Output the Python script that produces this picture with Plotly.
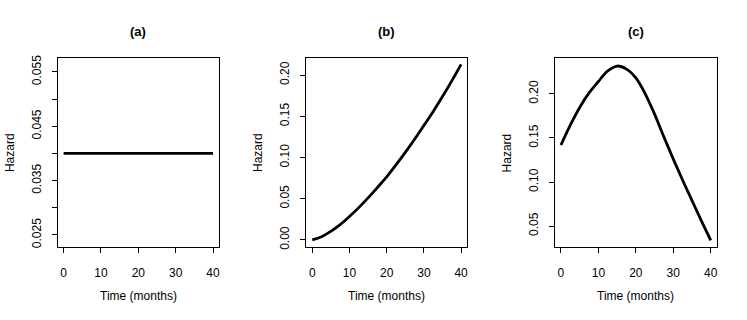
import plotly.graph_objects as go
from plotly.subplots import make_subplots

# time grid (months) and hazard values
months = [0, 2.5, 5, 7.5, 10, 12.5, 15, 17.5, 20, 22.5, 25, 27.5, 30, 32.5, 35, 37.5, 40]
hazard_a = [0.04] * len(months)
hazard_b = [0.0, 0.0038, 0.0104, 0.0186, 0.0285, 0.0392, 0.0510, 0.0636, 0.0765,
            0.0910, 0.1062, 0.1222, 0.1390, 0.1560, 0.1740, 0.1930, 0.2130]
hazard_c = [0.142, 0.1645, 0.1845, 0.201, 0.214, 0.226, 0.2315, 0.228, 0.218,
            0.200, 0.177, 0.151, 0.126, 0.102, 0.079, 0.056, 0.034]

panel_titles = ['(a)', '(b)', '(c)']
x_ticks = [0, 10, 20, 30, 40]
a_ticks = [0.025, 0.030, 0.035, 0.040, 0.045, 0.050, 0.055]
a_labels = ['0.025', '', '0.035', '', '0.045', '', '0.055']
b_ticks = [0.00, 0.05, 0.10, 0.15, 0.20]
b_labels = ['0.00', '0.05', '0.10', '0.15', '0.20']
c_ticks = [0.05, 0.10, 0.15, 0.20]
c_labels = ['0.05', '0.10', '0.15', '0.20']

W, H = 747, 320
FONT = 'Liberation Sans, Arial, Helvetica, sans-serif'

def px_x(sx):
    return sx / W

def px_y(sy):
    return 1 - sy / H

fig = make_subplots(rows=1, cols=3)

for i, hz in enumerate([hazard_a, hazard_b, hazard_c]):
    fig.add_trace(go.Scatter(x=months, y=hz, mode='lines', line_shape='spline',
                             line=dict(color='black', width=2.8), showlegend=False),
                  row=1, col=i + 1)

# plot boxes in pixels (left, right)
boxes = [(57.7, 219.3), (306.7, 467.7), (555.7, 717.7)]
top, bottom = 55.7, 248.3
ydom = [px_y(bottom), px_y(top)]
yranges = [[0.0227, 0.0576], [-0.0091, 0.221], [0.0259, 0.2408]]
yticks = [(a_ticks, a_labels), (b_ticks, b_labels), (c_ticks, c_labels)]

common = dict(showline=True, linecolor='black', linewidth=1, mirror=True,
              ticks='outside', ticklen=5, tickwidth=1, tickcolor='black',
              showgrid=False, zeroline=False,
              tickfont=dict(family=FONT, size=12, color='black'))

txt = dict(xref='paper', yref='paper', showarrow=False,
           xanchor='center', yanchor='middle')

for i in range(3):
    l, r = boxes[i]
    xa = 'xaxis' if i == 0 else f'xaxis{i + 1}'
    ya = 'yaxis' if i == 0 else f'yaxis{i + 1}'
    fig.layout[xa].update(domain=[px_x(l), px_x(r)], range=[-1.6, 41.6],
                          tickvals=x_ticks, ticklabelstandoff=9, **common)
    fig.layout[ya].update(domain=ydom, range=yranges[i],
                          tickvals=yticks[i][0], ticktext=yticks[i][1],
                          tickangle=-90, ticklabelstandoff=6, **common)
    cx = px_x((l + r) / 2)
    fig.add_annotation(text=f'<b>{panel_titles[i]}</b>', x=cx, y=px_y(29),
                       font=dict(family=FONT, size=13, color='black'), **txt)
    fig.add_annotation(text='Time (months)', x=cx, y=px_y(298),
                       font=dict(family=FONT, size=12, color='black'), **txt)

for sx in [9.5, 257.7, 507.5]:
    fig.add_annotation(text='Hazard', x=px_x(sx), y=px_y((top + bottom) / 2),
                       textangle=-90, font=dict(family=FONT, size=12, color='black'), **txt)

fig.update_layout(width=W, height=H, margin=dict(l=0, r=0, t=0, b=0),
                  paper_bgcolor='white', plot_bgcolor='white', hovermode=False,
                  font=dict(family=FONT, size=12, color='black'))

# drop the default 8px body margin so the figure fills the window exactly
fig.write_html('out.html', config={'displayModeBar': False},
               post_script="document.body.style.margin='0px';")
